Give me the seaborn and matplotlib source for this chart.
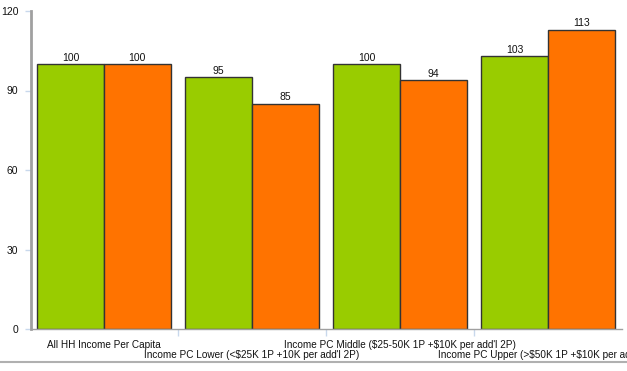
import matplotlib.pyplot as plt
import pandas as pd
import seaborn as sns
from matplotlib.lines import Line2D

categories = [
    "All HH Income Per Capita",
    "Income PC Lower (<$25K 1P +10K per add'l 2P)",
    "Income PC Middle ($25-50K 1P +$10K per add'l 2P)",
    "Income PC Upper (>$50K 1P +$10K per add'l 2P)",
]
series_names = ["Series 1", "Series 2"]
series_1 = [100, 95, 100, 103]
series_2 = [100, 85, 94, 113]
y_ticks = [0, 30, 60, 90, 120]

df = pd.DataFrame({
    "category": categories * 2,
    "series": [series_names[0]] * 4 + [series_names[1]] * 4,
    "value": series_1 + series_2,
})

sns.set_style("white")
plt.rcParams["font.family"] = ["Liberation Sans", "DejaVu Sans"]
plt.rcParams["text.parse_math"] = False

fig = plt.figure(figsize=(6.27, 3.71), dpi=100)
ax = fig.add_axes([31 / 627, 1 - 329 / 371, 591 / 627, 318 / 371])

sns.barplot(
    data=df, x="category", y="value", hue="series",
    palette=["#99cc00", "#ff7300"], width=0.9, dodge=True,
    edgecolor="#333333", linewidth=1.0, saturation=1, legend=False, ax=ax,
)

for cont in ax.containers:
    ax.bar_label(cont, fmt="%d", padding=1, fontsize=7.5, color="#111111")

ax.set_xlim(-0.493, 3.5)
ax.set_ylim(0, 120)
ax.set_yticks(y_ticks)
ax.tick_params(axis="y", length=4, width=1, color="#c8d8ec", labelsize=7.5,
               pad=5, labelcolor="#111111", left=True)

# category labels alternate between two rows: even ones on the main axis,
# odd ones on a secondary axis pushed one row lower
pos = list(range(len(categories)))
ax.set_xticks(pos[0::2], labels=categories[0::2])
ax.tick_params(axis="x", length=0, labelsize=7.2, pad=8, labelcolor="#111111")
ax.set_xticks([0.5, 1.5, 2.5], minor=True)
ax.tick_params(axis="x", which="minor", length=5, width=1, color="#c8d8ec",
               bottom=True)

sec = ax.secondary_xaxis("bottom")
sec.set_xticks(pos[1::2], labels=categories[1::2])
sec.tick_params(axis="x", length=0, labelsize=7.2, pad=15, labelcolor="#111111")
sec.spines["bottom"].set_visible(False)

ax.set_xlabel("")
ax.set_ylabel("")
for side in ["top", "right"]:
    ax.spines[side].set_visible(False)
ax.spines["left"].set_color("#a0a0a0")
ax.spines["left"].set_linewidth(2)
ax.spines["bottom"].set_color("#a0a0a0")
ax.spines["bottom"].set_linewidth(1)

fig.add_artist(Line2D([0, 1], [1 - 362 / 371] * 2, color="#b0b0b0", lw=1.5,
                      transform=fig.transFigure))

fig.savefig("out.png", dpi=100)
